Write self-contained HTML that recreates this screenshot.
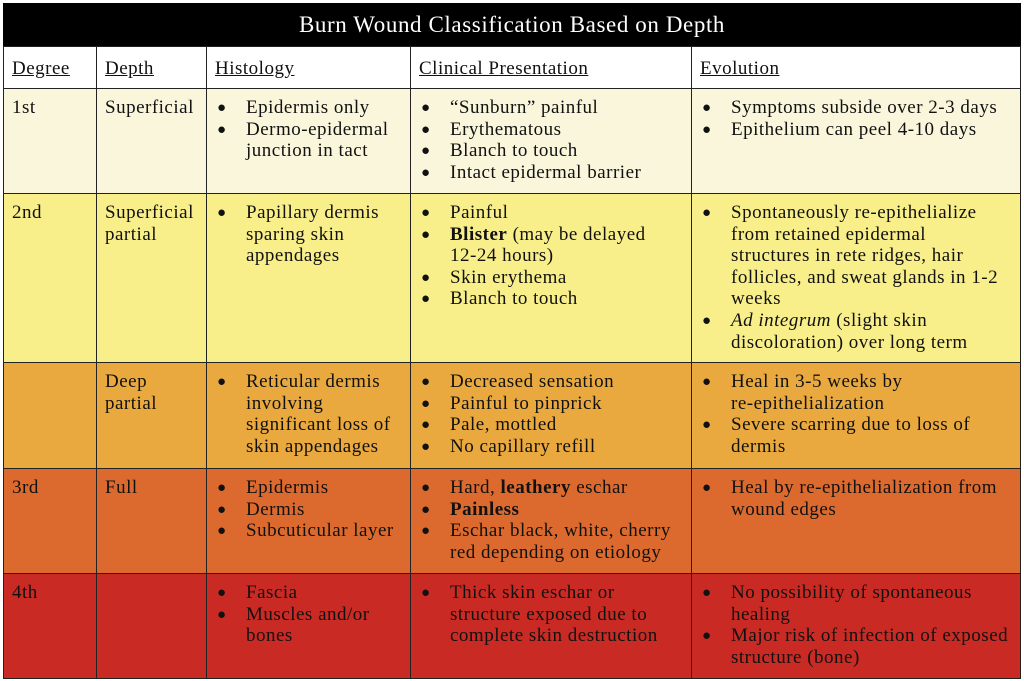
<!DOCTYPE html>
<html><head><meta charset="utf-8"><style>
body{margin:0;width:1024px;height:681px;background:#fff;position:relative;overflow:hidden;font-family:"Liberation Serif",serif;color:#111}
.c{position:absolute;box-sizing:border-box;border:1.5px solid #222;font-size:19px;letter-spacing:0.5px;line-height:21.6px;padding:8px 0 0 8px;white-space:nowrap}
.t{position:absolute;left:3px;top:3px;width:1018px;height:43px;background:#000;color:#fff;font-size:23px;letter-spacing:0.6px;text-align:center;line-height:43px}
.h{text-decoration:underline;padding-top:11px}
ul{margin:0;padding:0;list-style:none}
li{position:relative;padding-left:31px}
li:before{content:"●";position:absolute;left:2px;top:1px;font-size:15px;letter-spacing:0}
.r1{background:#faf6dc}.r2{background:#f8ef8a}.r3{background:#e9a93f}.r4{background:#dc6a2e}.r5{background:#c92a24}
</style></head><body>
<div class="t">Burn Wound Classification Based on Depth</div>

<div class="c h" style="left:3px;top:46px;width:94px;height:43px">Degree</div>
<div class="c h" style="left:96px;top:46px;width:111px;height:43px">Depth</div>
<div class="c h" style="left:206px;top:46px;width:205px;height:43px">Histology</div>
<div class="c h" style="left:410px;top:46px;width:282px;height:43px">Clinical Presentation</div>
<div class="c h" style="left:691px;top:46px;width:330px;height:43px">Evolution</div>

<div class="c r1" style="left:3px;top:88px;width:94px;height:106px">1st</div>
<div class="c r1" style="left:96px;top:88px;width:111px;height:106px">Superficial</div>
<div class="c r1" style="left:206px;top:88px;width:205px;height:106px"><ul><li>Epidermis only</li><li>Dermo-epidermal<br>junction in tact</li></ul></div>
<div class="c r1" style="left:410px;top:88px;width:282px;height:106px"><ul><li>“Sunburn” painful</li><li>Erythematous</li><li>Blanch to touch</li><li>Intact epidermal barrier</li></ul></div>
<div class="c r1" style="left:691px;top:88px;width:330px;height:106px"><ul><li>Symptoms subside over 2-3 days</li><li>Epithelium can peel 4-10 days</li></ul></div>

<div class="c r2" style="left:3px;top:193px;width:94px;height:170px">2nd</div>
<div class="c r2" style="left:96px;top:193px;width:111px;height:170px">Superficial<br>partial</div>
<div class="c r2" style="left:206px;top:193px;width:205px;height:170px"><ul><li>Papillary dermis<br>sparing skin<br>appendages</li></ul></div>
<div class="c r2" style="left:410px;top:193px;width:282px;height:170px"><ul><li>Painful</li><li><b>Blister</b> (may be delayed<br>12-24 hours)</li><li>Skin erythema</li><li>Blanch to touch</li></ul></div>
<div class="c r2" style="left:691px;top:193px;width:330px;height:170px"><ul><li>Spontaneously re-epithelialize<br>from retained epidermal<br>structures in rete ridges, hair<br>follicles, and sweat glands in 1-2<br>weeks</li><li><i>Ad integrum</i> (slight skin<br>discoloration) over long term</li></ul></div>

<div class="c r3" style="left:3px;top:362px;width:94px;height:107px"></div>
<div class="c r3" style="left:96px;top:362px;width:111px;height:107px">Deep<br>partial</div>
<div class="c r3" style="left:206px;top:362px;width:205px;height:107px"><ul><li>Reticular dermis<br>involving<br>significant loss of<br>skin appendages</li></ul></div>
<div class="c r3" style="left:410px;top:362px;width:282px;height:107px"><ul><li>Decreased sensation</li><li>Painful to pinprick</li><li>Pale, mottled</li><li>No capillary refill</li></ul></div>
<div class="c r3" style="left:691px;top:362px;width:330px;height:107px"><ul><li>Heal in 3-5 weeks by<br>re-epithelialization</li><li>Severe scarring due to loss of<br>dermis</li></ul></div>

<div class="c r4" style="left:3px;top:468px;width:94px;height:106px">3rd</div>
<div class="c r4" style="left:96px;top:468px;width:111px;height:106px">Full</div>
<div class="c r4" style="left:206px;top:468px;width:205px;height:106px"><ul><li>Epidermis</li><li>Dermis</li><li>Subcuticular layer</li></ul></div>
<div class="c r4" style="left:410px;top:468px;width:282px;height:106px"><ul><li>Hard, <b>leathery</b> eschar</li><li><b>Painless</b></li><li>Eschar black, white, cherry<br>red depending on etiology</li></ul></div>
<div class="c r4" style="left:691px;top:468px;width:330px;height:106px"><ul><li>Heal by re-epithelialization from<br>wound edges</li></ul></div>

<div class="c r5" style="left:3px;top:573px;width:94px;height:106px">4th</div>
<div class="c r5" style="left:96px;top:573px;width:111px;height:106px"></div>
<div class="c r5" style="left:206px;top:573px;width:205px;height:106px"><ul><li>Fascia</li><li>Muscles and/or<br>bones</li></ul></div>
<div class="c r5" style="left:410px;top:573px;width:282px;height:106px"><ul><li>Thick skin eschar or<br>structure exposed due to<br>complete skin destruction</li></ul></div>
<div class="c r5" style="left:691px;top:573px;width:330px;height:106px"><ul><li>No possibility of spontaneous<br>healing</li><li>Major risk of infection of exposed<br>structure (bone)</li></ul></div>
</body></html>
